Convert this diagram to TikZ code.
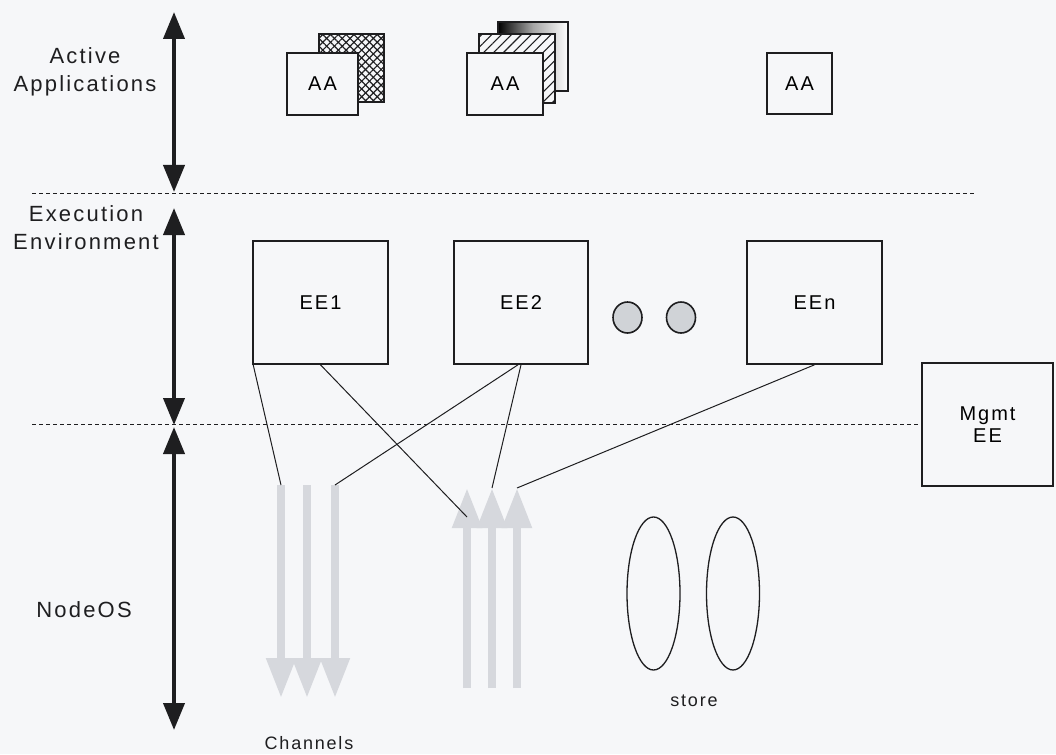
\documentclass[tikz,border=0pt]{standalone}
\usepackage{fontspec}
\setmainfont{Liberation Sans}[LetterSpace=10]
\usetikzlibrary{arrows.meta,patterns.meta,shapes.geometric}
\definecolor{bg}{RGB}{246,247,249}
\definecolor{chan}{RGB}{214,216,221}
\definecolor{dotfill}{RGB}{208,211,215}
\definecolor{ink}{RGB}{30,30,32}
\tikzset{
  box/.style={draw=ink, line width=1.6, fill=bg, inner sep=0, font=\fontsize{20}{22}\selectfont, align=center},
  layerlabel/.style={inner sep=0, align=center, font=\fontsize{22}{28}\selectfont, text=ink},
  smalllabel/.style={inner sep=0, font=\fontsize{18}{20}\selectfont, text=ink},
  layerarrow/.style={draw=ink, line width=4, {Triangle[length=27pt,width=21pt]}-{Triangle[length=27pt,width=21pt]}},
  dashline/.style={draw=ink, line width=1, dash pattern=on 4pt off 3pt},
  chanarrow/.style={draw=chan, line width=8, -{Triangle[length=40pt,width=28pt]}},
  link/.style={draw=ink, line width=1},
  dot/.style={ellipse, draw=ink, line width=1.6, fill=dotfill, inner sep=0, minimum width=29, minimum height=31},
  storeell/.style={ellipse, draw=ink, line width=1.3, inner sep=0, minimum width=53, minimum height=153},
  backsheet/.style={draw=ink, line width=1.6, fill=bg}
}
\begin{document}
\begin{tikzpicture}[x=1pt,y=-1pt]
\useasboundingbox[fill=bg] (0,0) rectangle (1056,754);

% layer labels
\node[layerlabel] (lAA) at (85,71.5) {Active\\Applications};
\node[layerlabel] (lEE) at (86,227.5) {Execution\\Environment};
\node[layerlabel] (lOS) at (84,610) {NodeOS};

% layer arrows
\draw[layerarrow] (174,12) -- (174,192);
\draw[layerarrow] (174,208) -- (174,425);
\draw[layerarrow] (174,427) -- (174,730);

% dashed separators
\draw[dashline] (32,193) -- (975,193);

% Active applications
\draw[backsheet] (319,34) rectangle (384,102);
\fill[pattern={Lines[angle=45,distance=5.5pt,line width=1.2pt]}, pattern color=ink] (319,34) rectangle (384,102);
\fill[pattern={Lines[angle=-45,distance=5.5pt,line width=1.2pt]}, pattern color=ink] (319,34) rectangle (384,102);
\draw[draw=ink, line width=1.6] (319,34) rectangle (384,102);
\node[box, minimum width=71, minimum height=62] (aa1) at (322.5,84) {AA};

\shade[left color=black, right color=white, middle color=black!35] (498,22) rectangle (568,91);
\draw[draw=ink, line width=1.6] (498,22) rectangle (568,91);
\draw[backsheet] (479,34) rectangle (555,103);
\fill[pattern={Lines[angle=45,distance=7pt,line width=1.1pt]}, pattern color=ink] (479,34) rectangle (555,103);
\draw[draw=ink, line width=1.6] (479,34) rectangle (555,103);
\node[box, minimum width=76, minimum height=62] (aa2) at (505,84) {AA};

\node[box, minimum width=65, minimum height=61] (aa3) at (799.5,83.5) {AA};

% Execution environments
\node[box, minimum width=135, minimum height=123] (ee1) at (320.5,302.5) {EE1};
\node[box, minimum width=134, minimum height=123] (ee2) at (521,302.5) {EE2};
\node[box, minimum width=135, minimum height=123] (een) at (814.5,302.5) {EEn};
\node[dot] (dot1) at (627.5,317.5) {};
\node[dot] (dot2) at (681,317.5) {};
\node[box, minimum width=131, minimum height=123] (mgmt) at (987.5,424.5) {Mgmt\\EE};

\draw[dashline] (32,424.5) -- (mgmt.west);

% channels
\coordinate (d1) at (281,485);
\coordinate (d2) at (307,485);
\coordinate (d3) at (335,485);
\coordinate (u1) at (467,488);
\coordinate (u2) at (492,488);
\coordinate (u3) at (517,488);
\coordinate (u1m) at (467,517);
\draw[chanarrow] (d1) -- (281,698);
\draw[chanarrow] (d2) -- (307,698);
\draw[chanarrow] (d3) -- (335,698);
\draw[chanarrow] (467,688) -- (u1);
\draw[chanarrow] (492,688) -- (u2);
\draw[chanarrow] (517,688) -- (u3);

% store
\node[storeell] (s1) at (653.5,593.5) {};
\node[storeell] (s2) at (733,593.5) {};
\node[smalllabel] (store) at (694,701) {store};
\node[smalllabel] (chl) at (309,743) {Channels};

% connectors
\draw[link] (ee1.south west) ++(1,0) -- (d1);
\draw[link] (ee1.south) -- (u1m);
\draw[link] (ee2.south) ++(-3,0) -- (d3);
\draw[link] (ee2.south) -- (u2);
\draw[link] (een.south) -- (u3);
\end{tikzpicture}
\end{document}
